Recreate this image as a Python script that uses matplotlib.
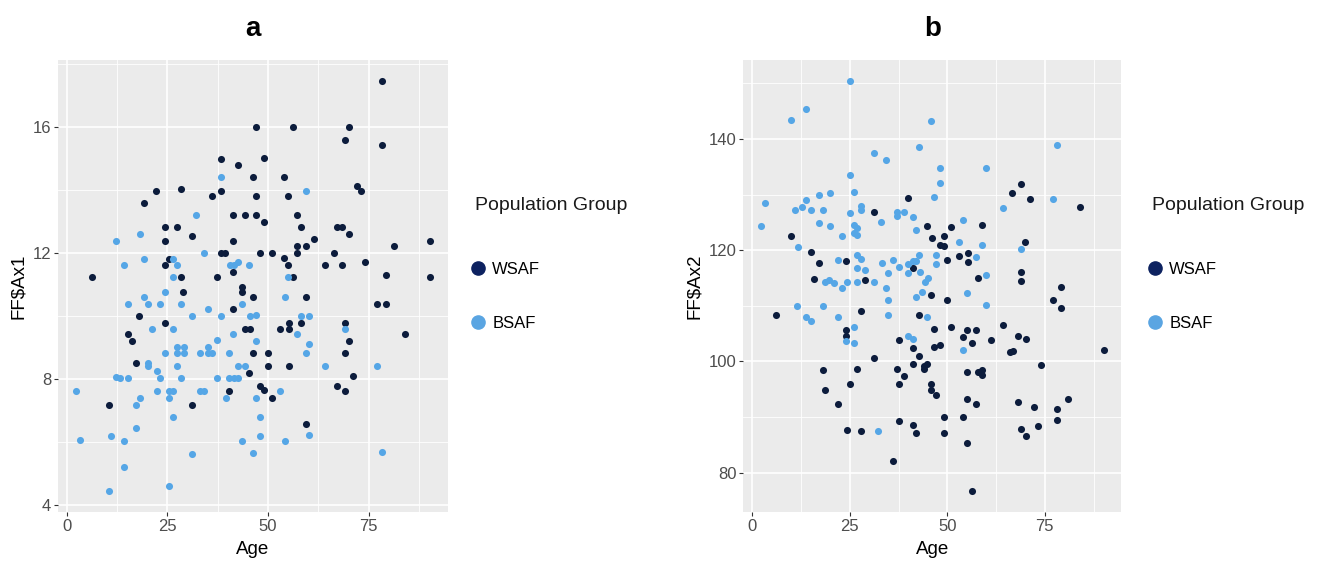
import matplotlib
matplotlib.use("Agg")
import matplotlib.pyplot as plt
from matplotlib.lines import Line2D
from matplotlib.ticker import FixedLocator

plt.rcParams['font.family'] = ['Liberation Sans', 'DejaVu Sans']

# panel a: Age vs FF$Ax1
a_wsaf_age = [46.9, 38.3, 49, 42.5, 46.2, 54, 22.1, 28.4, 38.3, 36.2, 46.9, 54.9, 19.2, 41.3, 44.4, 47, 49,
              24.3, 27.3, 31.2, 24.3, 41.3, 38.3, 39.3, 48, 51, 54, 54.9, 25.3, 24.3, 6.3, 28.4, 37.2, 41.3,
              43.5, 43.5, 28.9,
              78.3, 56.1, 70.2, 69.2, 78.3, 72.1, 73.1, 57.3, 58.2, 67.1, 68.3, 70.2, 57.3, 59.4, 61.4, 57.3,
              66.3, 81.2, 90.3, 64.2, 68.3, 74.1, 79.3, 90.3, 56.1,
              46.2, 41.3, 18.0, 24.3, 15.3, 16.2, 44.4, 45.5, 53, 46.2, 50.1, 17.2, 50.1, 45.3, 48, 49, 40.4,
              51.1, 10.4, 31.2,
              59.4, 77.2, 79.3, 55.2, 58.2, 55.2, 69.2, 70.2, 84.1, 69.2, 55.2, 71.2, 67.1, 69.2, 59.4]
a_wsaf_ff = [16.0, 14.98, 15.0, 14.8, 14.4, 14.4, 13.98, 14.03, 13.98, 13.8, 13.8, 13.8, 13.58, 13.2, 13.2, 13.2,
             12.97, 12.82, 12.82, 12.53, 12.38, 12.38, 12.0, 12.0, 12.0, 12.0, 11.83, 11.62, 11.82, 11.62, 11.22,
             11.22, 11.22, 11.4, 10.93, 10.77, 10.77,
             17.47, 16.0, 16.0, 15.59, 15.42, 14.13, 13.98, 13.2, 12.82, 12.82, 12.82, 12.61, 12.23, 12.23, 12.43,
             12.0, 12.0, 12.23, 12.38, 11.62, 11.62, 11.7, 11.3, 11.22, 11.22,
             10.61, 10.21, 10.0, 9.77, 9.42, 9.2, 9.6, 9.6, 9.6, 8.82, 8.82, 8.5, 8.41, 8.18, 7.79, 7.65, 7.62,
             7.41, 7.18, 7.18,
             10.61, 10.38, 10.38, 9.77, 9.77, 9.6, 9.77, 9.21, 9.42, 8.82, 8.41, 8.1, 7.79, 7.62, 6.57]

a_bsaf_age = [38.3, 32.1, 12.2, 18.2, 19.2, 14.3, 34.2, 26.4, 27.3, 40.5, 41.5, 42.5, 45.3, 26.4, 54.9, 59.4,
              24.3, 19.2, 15.3, 20.2, 23.2, 28.4, 35.2, 43.5, 31.2, 38.3, 45.5, 47.0, 21.2, 26.4, 41.4, 37.2,
              47, 27.3, 29.1, 35.2, 24.3, 27.3, 29.1, 33.1, 35.2, 36.2, 40.4, 20.1, 20.1, 27.3, 42.5, 44.4,
              22.3, 12.2, 13.2, 15.3, 23.1, 28.4, 37.2, 40.4, 41.5, 42.5, 2.2, 22.3, 25.3, 26.4, 33.1, 34.2,
              53.1, 18.2, 25.3, 39.5, 47, 17.2, 26.4, 48, 17.2, 11.1, 48, 3.3, 14.3, 43.5, 54.2, 31.2, 46.2,
              14.3, 25.3, 10.4,
              54.2, 58.2, 60.3, 57.3, 60.3, 69.2, 59.4, 64.2, 77.2, 60.3, 78.3]
a_bsaf_ff = [14.42, 13.2, 12.38, 12.6, 11.82, 11.62, 12.0, 11.82, 11.62, 11.62, 11.62, 11.71, 11.62, 11.22, 11.22,
             13.98,
             10.77, 10.61, 10.38, 10.38, 10.38, 10.38, 10.21, 10.38, 10.0, 10.0, 10.0, 10.04, 9.6, 9.6, 9.42,
             9.24, 9.21, 9.03, 9.03, 9.03, 8.82, 8.82, 8.82, 8.82, 8.82, 8.82, 8.82, 8.5, 8.41, 8.41, 8.41,
             8.41, 8.24, 8.06, 8.02, 8.02, 8.02, 8.02, 8.02, 8.02, 8.02, 8.02, 7.62, 7.62, 7.62, 7.62, 7.62,
             7.62, 7.62, 7.41, 7.41, 7.41, 7.41, 7.18, 6.79, 6.79, 6.45, 6.19, 6.19, 6.06, 6.02, 6.02, 6.02,
             5.61, 5.65, 5.22, 4.6, 4.43,
             10.61, 10.0, 10.0, 9.42, 9.11, 9.6, 8.82, 8.41, 8.41, 6.22, 5.69]

# panel b: Age vs FF$Ax2
b_wsaf_age = [39.9, 31.1, 44.9, 46.1, 9.9, 14.95, 17.1, 24.1, 41.1, 15.9, 29.0,
              68.9, 66.7, 71.1, 84.1, 50.9, 59.0, 49.1, 48.1, 49.2, 70.0, 53.0, 55.2, 49.9, 55.2, 57.9, 68.9,
              68.9, 79.1,
              45.9, 6.0, 27.8, 42.8, 24.0, 24.0, 46.5, 37.7, 41.1, 46.5, 42.8, 31.1, 41.1, 44.0, 44.9, 44.0,
              18.1, 26.9, 37.0, 38.9, 18.6, 25.0, 37.7, 45.9, 45.9, 22.0, 37.7, 41.1, 42.1, 24.2, 27.8, 36.0,
              49.9, 77.1, 79.1, 50.9, 55.1, 57.3, 54.1, 56.3, 61.2, 64.2, 68.0, 70.1, 66.0, 66.9, 90.1, 48.1,
              55.1, 57.9, 59.0, 59.0, 73.9, 47.0, 55.1, 57.3, 68.0, 72.2, 78.2, 80.9, 78.2, 49.2, 54.1, 49.2,
              69.0, 70.1, 73.2, 55.1, 56.3]
b_wsaf_ff = [129.4, 126.9, 124.4, 122.2, 122.5, 119.7, 117.6, 118.0, 116.7, 114.8, 114.6,
             131.9, 130.2, 129.2, 127.7, 124.1, 124.6, 122.5, 121.0, 120.8, 121.5, 119.0, 119.4, 118.2, 117.8,
             115.0, 116.1, 114.5, 113.3,
             111.9, 108.4, 109.1, 108.4, 105.6, 104.6, 105.9, 103.9, 102.4, 102.6, 100.9, 100.6, 99.6, 99.1,
             99.6, 98.7, 98.4, 98.6, 98.6, 97.3, 94.9, 95.9, 95.9, 95.9, 94.8, 92.4, 89.2, 88.5, 87.2, 87.7,
             87.5, 82.0,
             111.1, 111.0, 109.6, 106.1, 105.6, 105.6, 104.4, 103.3, 103.9, 106.6, 104.6, 104.1, 101.6, 101.9,
             102.0, 102.9, 98.1, 98.1, 98.4, 97.6, 99.4, 93.9, 93.2, 92.4, 92.7, 91.7, 91.5, 93.2, 89.5, 90.0,
             90.0, 87.2, 87.8, 86.5, 88.3, 85.4, 76.6]

b_bsaf_age = [25.0, 13.75, 9.9, 45.8, 42.8, 31.1, 34.2, 25.0, 26.1, 3.25, 13.75, 17.1, 19.9, 10.9, 12.65,
              14.95, 18.1, 27.8, 27.8, 25.0, 17.1, 19.9, 2.15, 33.1, 37.0, 37.0, 38.9, 41.1, 42.1, 26.1, 26.8,
              26.1, 26.8, 22.9, 11.8, 46.6, 26.8, 27.8, 21.9, 33.2, 36.0, 37.7, 40.0, 41.1, 42.1, 42.8, 40.0,
              34.9, 26.8, 29.0, 18.6, 19.8, 20.9, 24.2, 26.8, 31.1, 34.4, 44.2, 45.1, 22.9,
              78.1, 48.1, 60.0, 48.1, 77.1, 64.2, 54.1, 53.0, 59.0, 68.8, 47.0, 47.0, 57.3, 42.9, 60.0,
              43.6, 42.1, 34.9, 11.6, 18.1, 13.75, 14.95, 22.0, 34.9, 44.9, 26.1, 24.0, 26.1, 40.0, 41.1, 32.3,
              55.1, 60.0, 54.1]
b_bsaf_ff = [150.5, 145.3, 143.4, 143.2, 138.6, 137.4, 136.2, 133.6, 130.5, 128.4, 129.0, 129.9, 130.2, 127.2,
             127.8, 127.2, 127.2, 128.0, 127.2, 126.7, 124.9, 124.4, 124.4, 125.0, 126.9, 126.2, 126.9, 126.0,
             123.7, 124.6, 123.9, 123.1, 122.7, 122.5, 120.5, 129.6, 119.2, 118.4, 118.2, 117.6, 118.2, 117.0,
             117.5, 118.0, 118.0, 119.2, 115.8, 115.8, 116.7, 116.5, 114.3, 114.6, 114.1, 114.3, 114.3, 114.3,
             113.2, 114.3, 114.9, 113.2,
             138.9, 134.7, 134.7, 132.1, 129.2, 127.5, 125.5, 121.5, 121.0, 120.2, 119.2, 117.5, 118.7, 116.1,
             115.5,
             112.5, 111.6, 111.0, 109.9, 109.9, 107.9, 107.3, 107.9, 108.4, 107.9, 106.2, 103.6, 103.3, 104.6,
             104.1, 87.5,
             112.3, 110.1, 102.1]

group_names = ["WSAF", "BSAF"]
dark = "#0c1c3c"
light = "#55a6e6"

W, H = 1317, 565
fig = plt.figure(figsize=(W / 100, H / 100), dpi=100)
ax1 = fig.add_axes([0.0440, 0.0938, 0.2961, 0.800])
ax2 = fig.add_axes([0.5645, 0.0938, 0.2866, 0.800])

panels = [
    (ax1, "a", r"FF\$Ax1", a_wsaf_age, a_wsaf_ff, a_bsaf_age, a_bsaf_ff, [4, 8, 12, 16], [6, 10, 14, 18], 475),
    (ax2, "b", r"FF\$Ax2", b_wsaf_age, b_wsaf_ff, b_bsaf_age, b_bsaf_ff, [80, 100, 120, 140], [90, 110, 130, 150], 1152),
]

for ax, title, ylab, wx, wy, bx, by, yt, ymin, leg_px in panels:
    ax.set_facecolor("#ebebeb")
    ax.scatter(wx, wy, s=26, color=dark, linewidths=0, zorder=3)
    ax.scatter(bx, by, s=26, color=light, linewidths=0, zorder=3)
    ax.margins(0.05)
    ax.set_xticks([0, 25, 50, 75])
    ax.xaxis.set_minor_locator(FixedLocator([12.5, 37.5, 62.5, 87.5]))
    ax.set_yticks(yt)
    ax.yaxis.set_minor_locator(FixedLocator(ymin))
    ax.grid(which="major", color="white", linewidth=1.2, zorder=0)
    ax.grid(which="minor", color="white", linewidth=0.6, zorder=0)
    ax.set_axisbelow(True)
    for s in ax.spines.values():
        s.set_visible(False)
    ax.tick_params(which="major", length=3, width=0.8, color="#333333", labelcolor="#4d4d4d",
                   labelsize=12, pad=2)
    ax.tick_params(which="minor", length=0)
    ax.set_xlabel("Age", fontsize=13.5, labelpad=5)
    ax.set_ylabel(ylab, fontsize=13.5, labelpad=4)
    ax.set_title(title, fontsize=20, fontweight="bold", pad=17)

    # legend: title as text, keys below
    fig.text(leg_px / W, 1 - 205 / H, "Population Group", fontsize=14, color="#1a1a1a",
             ha="left", va="center")
    handles = [Line2D([], [], marker="o", linestyle="", color=c, markersize=9.5)
               for c in ["#0d2260", "#5aa5e2"]]
    ax.legend(handles, group_names, loc="center left",
              bbox_to_anchor=((leg_px - 11) / W, 1 - 296.5 / H), bbox_transform=fig.transFigure,
              frameon=False, borderpad=0, fontsize=12, labelspacing=2.35,
              handlelength=0.7, handletextpad=0.5)

fig.savefig("out.png", dpi=100)
